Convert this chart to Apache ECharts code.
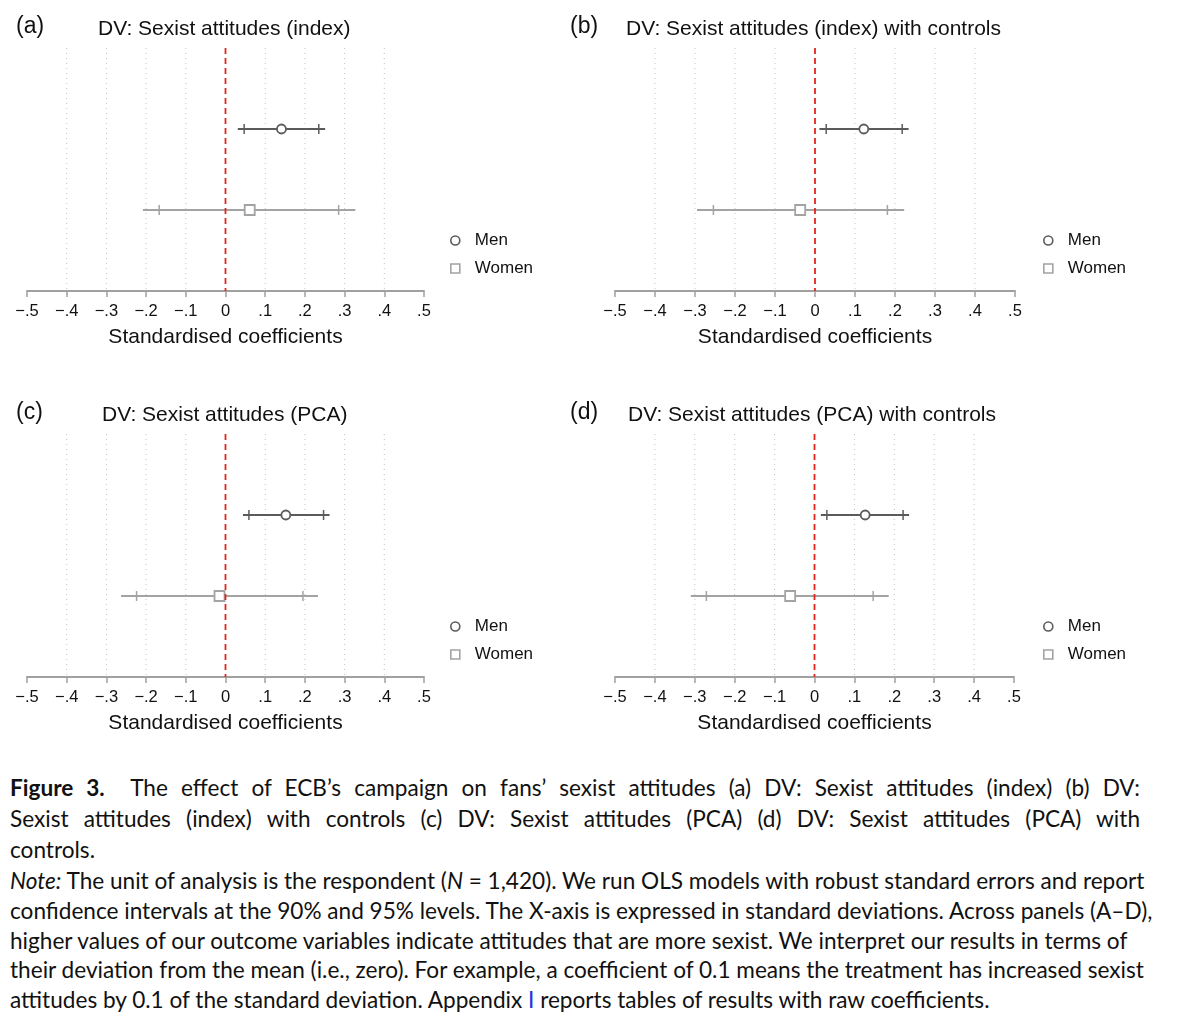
<!DOCTYPE html>
<html>
<head>
<meta charset="utf-8">
<script src="https://cdn.jsdelivr.net/npm/echarts@6/dist/echarts.min.js"></script>
<style>
body{margin:0;background:#fff;}
#chart{position:absolute;left:0;top:0;width:1194px;height:760px;}
#caption{position:absolute;left:10px;top:772px;width:1130px;font-family:Lato,"Noto Sans",sans-serif;font-size:22.6px;line-height:31px;color:#111;}
#caption .ln{white-space:nowrap;}
#caption .jl{text-align:justify;text-align-last:justify;white-space:normal;}
#caption .note{margin-top:1px;line-height:29.8px;}
</style>
</head>
<body>
<div id="chart"></div>
<div id="caption">
<div class="ln jl"><b>Figure 3.</b>&nbsp; The effect of ECB’s campaign on fans’ sexist attitudes (a) DV: Sexist attitudes (index) (b) DV:</div>
<div class="ln jl">Sexist attitudes (index) with controls (c) DV: Sexist attitudes (PCA) (d) DV: Sexist attitudes (PCA) with</div>
<div class="ln">controls.</div>
<div class="note">
<div class="ln"><i>Note:</i> The unit of analysis is the respondent (<i>N</i> = 1,420). We run OLS models with robust standard errors and report</div>
<div class="ln">confidence intervals at the 90% and 95% levels. The X-axis is expressed in standard deviations. Across panels (A–D),</div>
<div class="ln">higher values of our outcome variables indicate attitudes that are more sexist. We interpret our results in terms of</div>
<div class="ln">their deviation from the mean (i.e., zero). For example, a coefficient of 0.1 means the treatment has increased sexist</div>
<div class="ln">attitudes by 0.1 of the standard deviation. Appendix <span style="color:#2233dd">I</span> reports tables of results with raw coefficients.</div>
</div>
</div>
<script>
// panels
var panelTags = ['(a)', '(b)', '(c)', '(d)'];
var panelTitles = ['DV: Sexist attitudes (index)', 'DV: Sexist attitudes (index) with controls',
                   'DV: Sexist attitudes (PCA)', 'DV: Sexist attitudes (PCA) with controls'];

// men estimates
var menCoef  = [0.141, 0.122, 0.152, 0.127];
var menLo90  = [0.047, 0.028, 0.059, 0.031];
var menHi90  = [0.235, 0.218, 0.247, 0.222];
var menLo95  = [0.031, 0.011, 0.044, 0.016];
var menHi95  = [0.251, 0.234, 0.262, 0.237];

// women estimates
var womenCoef = [0.061, -0.037, -0.015, -0.061];
var womenLo90 = [-0.167, -0.254, -0.224, -0.271];
var womenHi90 = [0.285, 0.181, 0.195, 0.147];
var womenLo95 = [-0.208, -0.295, -0.263, -0.310];
var womenHi95 = [0.327, 0.223, 0.233, 0.186];

var xTicks = [-0.5, -0.4, -0.3, -0.2, -0.1, 0, 0.1, 0.2, 0.3, 0.4, 0.5];
var gridTicks = [-0.4, -0.3, -0.2, -0.1, 0.1, 0.2, 0.3, 0.4];

var MEN_COL = '#5b5b5b';
var WOMEN_COL = '#a3a3a3';

var chart = echarts.init(document.getElementById('chart'));

var grids = [
  {left: 27, top: 48, width: 397, height: 243},
  {left: 615, top: 48, width: 400, height: 243},
  {left: 27, top: 434, width: 397, height: 243},
  {left: 615, top: 434, width: 399, height: 243}
];
var tagPos = [[16, 15], [570, 15], [16, 401], [570, 401]];
var titlePos = [[98, 19], [626, 19], [102, 405], [628, 405]];
var legendPos = [[450, 232], [1043, 232], [450, 618], [1043, 618]];

function fmtTick(v){
  if (Math.abs(v) < 1e-9) return '0';
  var s = '.' + Math.round(Math.abs(v) * 10);
  return v < 0 ? '\u2212' + s : s;
}

function ciRender(color, shape){
  return function(params, api){
    var y = api.value(5);
    var c = api.coord([api.value(0), y]);
    var l95 = api.coord([api.value(1), y]);
    var h95 = api.coord([api.value(2), y]);
    var l90 = api.coord([api.value(3), y]);
    var h90 = api.coord([api.value(4), y]);
    var st = {stroke: color, lineWidth: 2};
    var kids = [
      {type: 'line', shape: {x1: l95[0], y1: c[1], x2: h95[0], y2: c[1]}, style: st},
      {type: 'line', shape: {x1: l90[0], y1: c[1] - 5, x2: l90[0], y2: c[1] + 5}, style: {stroke: color, lineWidth: 1.5}},
      {type: 'line', shape: {x1: h90[0], y1: c[1] - 5, x2: h90[0], y2: c[1] + 5}, style: {stroke: color, lineWidth: 1.5}}
    ];
    if (shape === 'circle') {
      kids.push({type: 'circle', shape: {cx: c[0], cy: c[1], r: 4.5}, style: {fill: '#fff', stroke: color, lineWidth: 1.8}});
    } else {
      kids.push({type: 'rect', shape: {x: c[0] - 5, y: c[1] - 5, width: 10, height: 10}, style: {fill: '#fff', stroke: color, lineWidth: 1.8}});
    }
    return {type: 'group', children: kids};
  };
}

function vlineRender(color, lineWidth, dash){
  return function(params, api){
    var top = api.coord([api.value(0), 0]);
    var bot = api.coord([api.value(0), 3]);
    return {type: 'line', shape: {x1: top[0], y1: top[1], x2: bot[0], y2: bot[1]},
            style: {stroke: color, lineWidth: lineWidth, lineDash: dash}};
  };
}

var option = {
  animation: false,
  grid: grids,
  title: [],
  legend: [],
  xAxis: [],
  yAxis: [],
  series: []
};

for (var i = 0; i < 4; i++) {
  option.title.push({text: panelTags[i], left: tagPos[i][0], top: tagPos[i][1], padding: 0,
    textStyle: {fontFamily: 'Liberation Sans', fontSize: 23, fontWeight: 'normal', color: '#111'}});
  option.title.push({text: panelTitles[i], left: titlePos[i][0], top: titlePos[i][1], padding: 0,
    textStyle: {fontFamily: 'Liberation Sans', fontSize: 21, fontWeight: 'normal', color: '#111'}});

  option.legend.push({
    orient: 'vertical', left: legendPos[i][0], top: legendPos[i][1], padding: 0,
    itemWidth: 9, itemHeight: 9, itemGap: 11, selectedMode: false,
    textStyle: {fontFamily: 'Liberation Sans', fontSize: 17, color: '#111', padding: [0, 0, 0, 10]},
    data: [
      {name: 'Men', icon: 'circle', itemStyle: {color: '#fff', borderColor: MEN_COL, borderWidth: 1.6}},
      {name: 'Women', icon: 'rect', itemStyle: {color: '#fff', borderColor: WOMEN_COL, borderWidth: 1.6}}
    ]
  });

  option.xAxis.push({
    gridIndex: i, type: 'value', min: -0.5, max: 0.5, interval: 0.1, position: 'bottom',
    name: 'Standardised coefficients', nameLocation: 'middle', nameGap: 36,
    nameTextStyle: {fontFamily: 'Liberation Sans', fontSize: 21, color: '#111'},
    axisLine: {onZero: false, lineStyle: {color: '#a0a0a0', width: 1.8}},
    axisTick: {length: 6, lineStyle: {color: '#a0a0a0', width: 1.5}},
    axisLabel: {formatter: fmtTick, margin: 12, fontFamily: 'Liberation Sans', fontSize: 16.5, color: '#111'},
    splitLine: {show: false}
  });
  option.yAxis.push({gridIndex: i, type: 'value', min: 0, max: 3, inverse: true, show: false});

  option.series.push({
    type: 'custom', xAxisIndex: i, yAxisIndex: i, silent: true, z: 1,
    renderItem: vlineRender('#c4c4c4', 1, [1, 4]),
    data: gridTicks.map(function(v){ return [v]; })
  });
  option.series.push({
    type: 'custom', xAxisIndex: i, yAxisIndex: i, silent: true, z: 5,
    renderItem: vlineRender('#e3241b', 1.8, [6, 4]),
    data: [[0]]
  });
  option.series.push({
    name: 'Men', type: 'custom', xAxisIndex: i, yAxisIndex: i, z: 3,
    itemStyle: {color: MEN_COL},
    renderItem: ciRender(MEN_COL, 'circle'),
    data: [[menCoef[i], menLo95[i], menHi95[i], menLo90[i], menHi90[i], 1]]
  });
  option.series.push({
    name: 'Women', type: 'custom', xAxisIndex: i, yAxisIndex: i, z: 3,
    itemStyle: {color: WOMEN_COL},
    renderItem: ciRender(WOMEN_COL, 'rect'),
    data: [[womenCoef[i], womenLo95[i], womenHi95[i], womenLo90[i], womenHi90[i], 2]]
  });
}

chart.setOption(option);
</script>
</body>
</html>
